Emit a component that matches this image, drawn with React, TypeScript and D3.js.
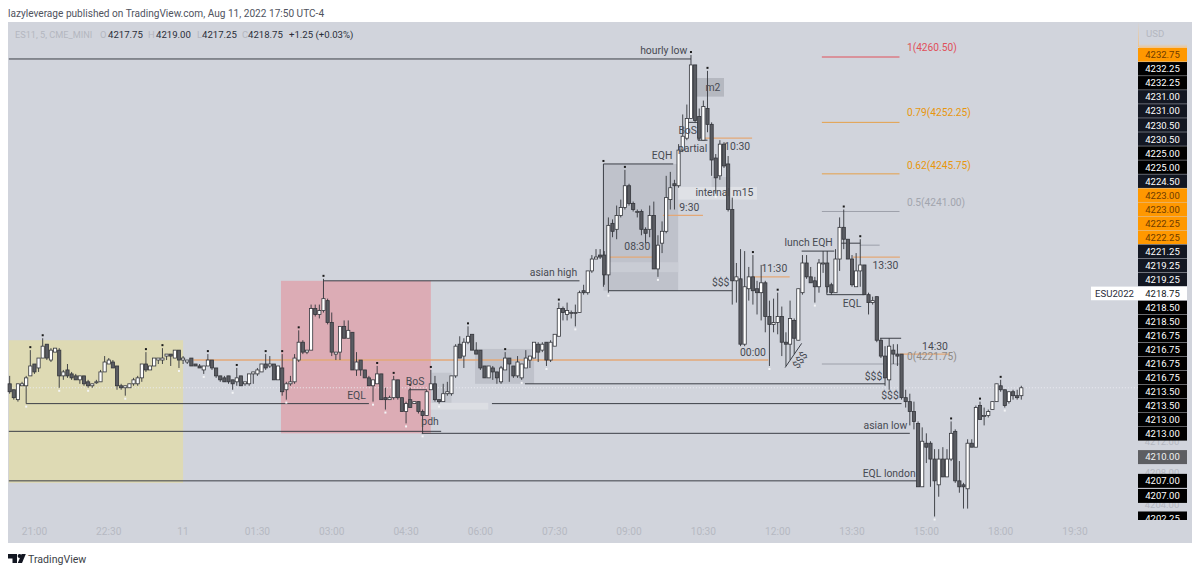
import React from 'react';
import * as d3 from 'd3';

// ES1! 5 minute bars
const opens = [
  4219.25,4218.5,4217.25,4219,4219,4220.25,4221.75,4221.25,4222.5,4224.25,
  4222.25,4223.25,4223.5,4220.25,4221,4220.5,4220.25,4219.75,4220.25,4219.5,
  4219,4219.5,4219.5,4220.75,4221.75,4222,4221.5,4219,4218.75,4218.75,
  4219.25,4219.25,4220,4221.75,4221,4221.5,4222.25,4222.25,4222.75,4223,
  4222.5,4223.5,4222.25,4222,4222.5,4221.75,4221.5,4221,4221.5,4222.25,
  4221.25,4220.25,4220,4220.25,4219.75,4219.5,4220.25,4219.25,4219.25,4220.5,
  4220.5,4220.75,4221.75,4221.5,4221.75,4219.75,4221.25,4218.5,4219.25,4219.5,
  4222.25,4224.5,4223.25,4223.5,4228.75,4228,4228.5,4229.75,4227,4223,
  4223.25,4226.5,4225,4225.75,4221,4222.25,4221,4220,4219,4219.25,
  4220.5,4217.5,4217.25,4217.5,4219.75,4217.5,4215.75,4217.25,4216.75,4217,
  4215.75,4215.25,4218.5,4219.25,4217.25,4217,4218,4218,4220.25,4224.25,
  4222.75,4224.5,4225.5,4223.5,4223.5,4221.5,4220,4221.25,4220.75,4219.5,
  4221,4222.5,4221.5,4220.25,4220,4221.25,4222.25,4222.5,4224.25,4223.5,
  4224.5,4222.25,4224,4225.25,4228.75,4228,4228.25,4228.25,4228.25,4231,
  4230.75,4233.5,4235,4235.5,4235.5,4233,4239.5,4238.75,4240.5,4241.5,
  4244.25,4242,4241,4241,4238.75,4238.75,4240.5,4233.75,4237,4238.5,
  4242.5,4244.5,4244.25,4248.75,4250.25,4252.75,4259.5,4253,4250,4254,
  4252,4247.75,4245.5,4249.5,4247,4241.25,4232.25,4232.5,4224.25,4231.25,
  4232.75,4231.25,4230.75,4232,4227.75,4226.75,4227,4227.75,4224.5,4224.25,
  4227.25,4224.75,4230.75,4234.5,4232.75,4232.25,4231.5,4234.5,4234.5,4231.75,
  4230.75,4235,4239,4237.5,4235,4231.5,4233.5,4234.25,4230.5,4229.5,
  4230.25,4224.75,4222.75,4219.75,4223.5,4223,4223,4217.5,4217,4215.75,
  4214.25,4206.25,4211.75,4211.75,4209.75,4206.5,4209.75,4207.5,4209.75,4213.25,
  4207,4206.5,4206,4211.75,4211.25,4216.5,4215.25,4215.25,4216,4217,
  4219,4218.5,4217,4218.25,4217.75,4217.75,
];
const highs = [
  4220.25,4218.5,4219.25,4219.5,4220.25,4223.5,4221.75,4222.5,4225,4224.25,
  4223.75,4223.75,4223.75,4221,4221.75,4220.75,4220.5,4220.25,4220.25,4219.75,
  4219.25,4219.75,4221,4222.75,4222.5,4222.25,4221.5,4219.25,4219,4219.25,
  4220,4220.25,4221.75,4223.25,4221.5,4222.5,4222.5,4223.75,4223,4223,
  4223.5,4223.5,4222.75,4222.25,4222.5,4221.75,4221.75,4221.5,4223,4222.25,
  4221.25,4220.25,4220.25,4220.25,4219.75,4221.25,4220.25,4219.5,4220.5,4220.75,
  4221.25,4221.75,4223,4222.75,4221.75,4221.5,4223,4219.5,4220.25,4223,
  4226,4224.75,4223.5,4229.25,4229.25,4229.25,4232.5,4230,4228.25,4223.25,
  4226.5,4227.25,4227.25,4225.75,4223.25,4222.25,4221,4220.25,4219.75,4221.5,
  4220.5,4218.75,4217.75,4220.25,4219.75,4217.5,4217,4218.75,4217,4217,
  4216,4218.5,4221,4220.25,4217.25,4219.25,4219.5,4220.25,4224.25,4225.25,
  4225,4226.5,4225.5,4224.5,4223.5,4221.5,4221.5,4221.5,4220.75,4221.5,
  4223.25,4222.5,4221.5,4222.75,4221.75,4223.5,4222.75,4224.5,4224.5,4224.5,
  4224.5,4224.75,4225.5,4229.5,4229,4229.5,4228.5,4229.25,4231,4231.75,
  4233.5,4235.5,4236.25,4236.25,4236,4240.25,4240,4241.75,4242.5,4246.25,
  4244.5,4242.25,4241.25,4241.25,4239,4241.75,4242.25,4238,4239.75,4245.5,
  4246,4245,4249.5,4253.25,4254.5,4260.75,4259.5,4254,4255,4258.75,
  4252.25,4248.25,4250,4249.75,4248,4242.75,4234.5,4236.25,4236,4234,
  4235.5,4232.25,4234.25,4232.25,4229.75,4230,4230.75,4229,4225.75,4229.75,
  4227.5,4231.25,4235.5,4235.5,4234,4232.75,4235,4236,4236,4232,
  4236.25,4240.25,4241.25,4237.5,4235.5,4235.75,4237.5,4234.25,4230.75,4230.25,
  4230.25,4225,4224,4225,4224.25,4224.25,4223,4218.5,4218,4217,
  4214.5,4213.75,4213,4212,4211,4211,4211.25,4211,4214.5,4213.5,
  4209.5,4206.75,4212.25,4212.25,4216.5,4217,4216.25,4216,4217,4219.25,
  4219.75,4218.5,4218.25,4218.5,4218.5,4219,
];
const lows = [
  4218,4217.25,4217,4219,4216.75,4220.25,4220.5,4220.75,4222.5,4222.25,
  4222,4223.25,4218.75,4219.75,4220,4219.75,4219.75,4219.25,4219,4218.75,
  4218.75,4219.25,4219.5,4220.75,4221.75,4221.25,4218.5,4218.5,4217.75,4218.75,
  4219,4219,4219.5,4220.75,4221,4221.5,4221.75,4221.75,4222.25,4221.5,
  4222.5,4221.25,4221.75,4221.75,4221.5,4221.5,4221.25,4220.5,4221.5,4221,
  4220,4219.5,4219.5,4219.25,4218.5,4219,4219,4219,4219,4219.25,
  4220.25,4220.75,4221,4221.25,4219.75,4219.75,4217.75,4217.25,4219,4219.25,
  4222,4223,4223,4223.5,4227.75,4227.5,4228.25,4226.75,4222.75,4222.25,
  4222.25,4225,4225,4221,4220.25,4220.25,4220,4219,4217,4219.25,
  4217.25,4216,4217.25,4217.25,4217.25,4215.75,4214.25,4216.25,4216.75,4215.5,
  4213,4215.25,4218.5,4217,4216.75,4217,4217.75,4217.75,4220,4222.5,
  4221.25,4224.25,4223.5,4223,4221,4220,4220,4219.75,4219.25,4219.25,
  4221,4219.5,4220,4220,4219.75,4221.25,4221.25,4222.5,4222,4223.25,
  4221.5,4222,4224,4225.25,4227.25,4227.25,4227.5,4226.5,4228.25,4230.5,
  4230.5,4233.25,4235,4235,4231.75,4230.75,4237.75,4237.5,4240.25,4241.25,
  4241.75,4241,4240.25,4238,4237,4237.75,4233.75,4232.75,4235.75,4238.25,
  4241.25,4241.25,4244,4248.5,4250,4252.75,4252.25,4250,4250,4251,
  4245.5,4243.25,4245,4246.5,4241,4229.25,4229.5,4224,4224,4229.75,
  4229.25,4228,4227.25,4225.75,4221.5,4225.75,4225.5,4222.75,4221.5,4222.25,
  4223,4224.75,4230.5,4232.5,4232,4229.5,4230.75,4233.25,4230.75,4230.5,
  4230.75,4233.5,4236.25,4235,4231.5,4231.5,4231.5,4230.5,4228,4229.25,
  4224.5,4222.5,4219,4218.5,4221.75,4221.5,4217.25,4216.25,4214,4213.5,
  4206.25,4206.25,4209.25,4206.25,4202.5,4205,4207.5,4207.5,4209.5,4206.75,
  4205.5,4203.5,4203.5,4211.25,4211.25,4214.75,4214,4215,4216,4217,
  4218.25,4216.25,4216.75,4217.25,4217.25,4217.25,
];
const closes = [
  4218.25,4217.5,4219.25,4219.25,4220,4221.5,4220.75,4222.5,4224,4222.5,
  4223.5,4223.75,4220.25,4220.75,4220.25,4220,4219.75,4220.25,4219.25,4219,
  4219.25,4219.5,4220.75,4222,4222.25,4221.25,4219,4218.75,4219,4219.25,
  4219.75,4220,4221.75,4221,4221.5,4222.5,4222.5,4222.5,4223,4222.75,
  4223.5,4222.25,4222.5,4222.25,4221.5,4221.5,4221.25,4221.5,4222.25,4221.25,
  4220.25,4219.75,4219.5,4219.5,4219.25,4220,4219,4219.5,4220.5,4220.75,
  4221,4221.75,4221.25,4221.75,4219.75,4221.5,4218.25,4219.25,4219.5,4222.5,
  4224.5,4223.25,4223.5,4228.75,4228,4228.5,4230,4227,4223.25,4223.25,
  4226.5,4225,4226,4221,4222,4221,4220,4219,4219.75,4220.5,
  4217.25,4217.25,4217.5,4219.75,4217.5,4215.75,4216.75,4216.25,4217,4215.75,
  4215.25,4218.25,4219.25,4217.25,4217,4218,4218.25,4220.25,4224,4222.5,
  4224.5,4225.25,4223.5,4223,4221.25,4220,4221.5,4220.75,4220,4221.25,
  4222.5,4221.75,4220.25,4222,4221.75,4222.5,4222.75,4224.5,4223.25,4224.25,
  4222.25,4224.5,4225.5,4228.75,4228.25,4228.5,4228.25,4228.25,4230.75,4230.75,
  4233.5,4235,4235.25,4235.25,4233,4239.25,4238.5,4240.5,4241.5,4244.25,
  4242,4241.25,4241,4238.75,4238.25,4240.5,4233.75,4236.75,4238.5,4242.75,
  4244,4244.25,4248.75,4250.5,4252.75,4259.5,4252.5,4250.25,4254.25,4252,
  4247.5,4245.25,4249.5,4246.75,4241.25,4232.25,4232.75,4224.25,4231.5,4232.75,
  4231,4230.75,4232,4227.75,4226.75,4227,4227.75,4224.5,4224.25,4227.5,
  4225,4231.25,4234.5,4232.75,4232,4231.5,4234.5,4234.5,4231.5,4230.75,
  4235,4239,4237.5,4235,4231.75,4233.5,4234.25,4230.5,4229.5,4229.75,
  4224.75,4222.75,4220,4224,4223,4222.75,4217.5,4217,4215.75,4214.5,
  4206.25,4212,4211.25,4209.75,4207,4209.75,4207.5,4209.75,4213,4207,
  4206.25,4206.25,4211.75,4211.25,4216.25,4214.75,4215.25,4215.75,4217,4219.25,
  4218.5,4216.5,4218.25,4217.75,4217.5,4218.75,
];

// swing markers, bar numbers
const swingHighBars = [5,8,33,37,48,55,62,66,70,76,89,93,97,102,111,120,133,149,165,169,180,186,202,206,228,235,240];
const swingLowBars = [4,12,19,28,41,47,54,67,88,91,96,100,104,124,130,137,145,157,171,184,195,224,241];

// time axis
const timeLabels = ['21:00','22:30','11','01:30','03:00','04:30','06:00','07:30','09:00','10:30','12:00','13:30','15:00','18:00','19:30'];
const timeBars = [6,24,42,60,78,96,114,132,150,168,186,204,222,240,258];

// price scale, stacked tags
const stackLabels = ['4232.75','4232.25','4232.25','4231.00','4231.00','4230.50','4230.50','4225.00','4225.00','4224.50','4223.00','4223.00','4222.25','4222.25','4221.25','4219.25','4219.25','4218.75','4218.50','4218.50','4216.75','4216.75','4216.75','4216.75','4213.50','4213.50','4213.00','4213.00'];
const stackKinds = ['o','k','k','n','n','n','n','k','k','n','o','o','o','o','n','n','n','w','k','k','k','k','k','k','k','k','k','k'];
const fadedPrices = [4212, 4208, 4204];
const lowerTags = [4207, 4205.1, 4202.25];
const lowerTagLabels = ['4207.00','4207.00','4202.25'];

// drawings, in bars and prices
const darkLevels = [
  { from: -0.2, to: 165, price: 4260.25 },
  { from: 76, to: 138, price: 4232.25 },
  { from: 4, to: 87, price: 4216.75 },
  { from: -0.2, to: 104.5, price: 4213.25 },
  { from: 99.8, to: 218, price: 4213 },
  { from: 116.8, to: 216, price: 4216.75 },
  { from: 124.8, to: 212, price: 4219.25 },
  { from: -0.2, to: 219.7, price: 4207 },
  { from: 143.8, to: 160.7, price: 4247 },
  { from: 145, to: 175, price: 4231 },
  { from: 164, to: 166.7, price: 4252.25 },
  { from: 166.7, to: 169, price: 4250 },
  { from: 96.7, to: 101, price: 4218.5 },
  { from: 191.8, to: 199.7, price: 4236 },
  { from: 197.9, to: 207, price: 4230.5 },
  { from: 201, to: 206, price: 4237 },
  { from: 210.8, to: 215.9, price: 4225 },
];
const darkVerticals = [
  { bar: 143.8, top: 4247, bottom: 4231.5 },
  { bar: 96.7, top: 4218.5, bottom: 4217.25 },
  { bar: 197.9, top: 4231.5, bottom: 4230.5 },
  { bar: 164, top: 4252.25, bottom: 4251 },
  { bar: 166.7, top: 4252.25, bottom: 4250 },
];
const orangeLevels = [
  { from: 44.5, to: 183.7, price: 4222.25 },
  { from: 145, to: 156.5, price: 4235.25 },
  { from: 158.2, to: 167.9, price: 4240.5 },
  { from: 167.9, to: 179.8, price: 4250.25 },
  { from: 180, to: 188.9, price: 4232.75 },
  { from: 204.2, to: 215.6, price: 4235.25 },
  { from: 215.6, to: 227.7, price: 4223 },
];
const fibLevels = [
  { price: 4260.5, label: '1(4260.50)', labelPrice: 4261.65, color: '#e0505a', text: '#e0505a' },
  { price: 4252.25, label: '0.79(4252.25)', labelPrice: 4253.45, color: '#e5a04a', text: '#e8960c' },
  { price: 4245.75, label: '0.62(4245.75)', labelPrice: 4246.85, color: '#e5a04a', text: '#e8960c' },
  { price: 4241, label: '0.5(4241.00)', labelPrice: 4242.2, color: '#9da0aa', text: '#a2a5ae' },
  { price: 4221.75, label: '0(4221.75)', labelPrice: 4222.75, color: '#9da0aa', text: '#8f8a86' },
];
const zones = [
  { from: -0.2, to: 42, top: 4224.75, bottom: 4206.75, fill: '#dedab4' },
  { from: 65.7, to: 102, top: 4232.25, bottom: 4213, fill: '#dcacb5' },
  { from: 143.8, to: 161.9, top: 4247, bottom: 4231, fill: '#bfc2cb' },
  { from: 143.8, to: 161.9, top: 4234.6, bottom: 4233.35, fill: '#c9ccd4' },
  { from: 102.2, to: 107, top: 4220.65, bottom: 4216.75, fill: '#c3c6ce' },
  { from: 112.7, to: 127, top: 4223.65, bottom: 4219.25, fill: '#bfc2cb' },
  { from: 102, to: 115.9, top: 4216.85, bottom: 4216, fill: '#dcdee3' },
  { from: 166.2, to: 173, top: 4257.85, bottom: 4255.5, fill: '#b5b8c0' },
  { from: 170, to: 174.5, top: 4245.35, bottom: 4242.7, fill: '#c3c6ce' },
  { from: 161.9, to: 181, top: 4244.1, bottom: 4242.5, fill: '#dfe1e6' },
];
const notes = [
  { text: 'hourly low', bar: 158.4, price: 4261.4 },
  { text: 'm2', bar: 170.3, price: 4256.7 },
  { text: 'BoS', bar: 164.2, price: 4251.3 },
  { text: 'partial', bar: 165.4, price: 4249 },
  { text: '10:30', bar: 176.2, price: 4249.25 },
  { text: 'EQH', bar: 158, price: 4248.1 },
  { text: 'internal m15', bar: 173.1, price: 4243.45 },
  { text: '9:30', bar: 164.6, price: 4241.55 },
  { text: '08:30', bar: 152, price: 4236.65 },
  { text: 'asian high', bar: 131.7, price: 4233.3 },
  { text: '$$$', bar: 172.2, price: 4232 },
  { text: '00:00', bar: 180, price: 4223.25 },
  { text: '11:30', bar: 185.2, price: 4233.85 },
  { text: 'lunch EQH', bar: 193.5, price: 4237.15 },
  { text: '13:30', bar: 212.1, price: 4234.25 },
  { text: 'EQL', bar: 204, price: 4229.45 },
  { text: '14:30', bar: 224.1, price: 4224 },
  { text: '$$$', bar: 209.2, price: 4220.25 },
  { text: '$$$', bar: 213.2, price: 4217.85 },
  { text: 'asian low', bar: 212.1, price: 4214.05 },
  { text: 'EQL london', bar: 213, price: 4208 },
  { text: 'EQL', bar: 84, price: 4217.85 },
  { text: 'BoS', bar: 98.2, price: 4219.6 },
  { text: 'pdh', bar: 101.8, price: 4214.45 },
];

const W = 1200;
const H = 573;
const FONT = 'Roboto, "Noto Sans", sans-serif';
const INK = '#474a52';

const x = d3.scaleLinear().domain([0, 245]).range([9.67, 1021.3]);
const y = d3.scaleLinear().domain([4221.75, 4260.5]).range([364, 57]);
const stackY = d3.scaleLinear().domain([0, 27]).range([55, 434]);
const fmt = d3.format('.2f');

const tagFill: Record<string, string> = { o: '#ff9800', k: '#000000', n: '#131722', w: '#ffffff' };
const tagText: Record<string, string> = { o: '#6e3b00', k: '#ffffff', n: '#ffffff', w: '#131722' };

export default function App() {
  return (
    <svg width={W} height={H} style={{ position: 'absolute', left: 0, top: 0, background: '#fff' }} fontFamily={FONT}>
      <defs>
        <clipPath id="plot"><rect x={8} y={22} width={1184} height={498} /></clipPath>
        <linearGradient id="axisGlow" x1="0" y1="0" x2="0" y2="1">
          <stop offset="0" stopColor="#d1d4dc" />
          <stop offset="1" stopColor="#f2c48a" />
        </linearGradient>
      </defs>

      <text x={8} y={17} fontSize={10.1} fill="#50535e">lazyleverage published on TradingView.com, Aug 11, 2022 17:50 UTC-4</text>

      <rect x={8} y={22} width={1184} height={521} fill="#d1d4dc" />

      {zones.map((z, i) => (
        <rect key={i} x={x(z.from)} y={y(z.top)} width={x(z.to) - x(z.from)} height={y(z.bottom) - y(z.top)} fill={z.fill} />
      ))}

      <line x1={x(-0.2)} x2={1138} y1={y(closes[closes.length - 1])} y2={y(closes[closes.length - 1])} stroke="#eceef2" strokeDasharray="1 2" />

      {orangeLevels.map((l, i) => (
        <line key={i} x1={x(l.from)} x2={x(l.to)} y1={y(l.price)} y2={y(l.price)} stroke="#e3a877" strokeWidth={i === 0 ? 1.6 : 1.3} />
      ))}
      {fibLevels.map((l, i) => (
        <line key={i} x1={x(196.7)} x2={x(215.5)} y1={y(l.price)} y2={y(l.price)} stroke={l.color} />
      ))}
      <line x1={x(205.9)} x2={x(210.7)} y1={y(4236.75)} y2={y(4236.75)} stroke="#9da0aa" />

      {darkLevels.map((l, i) => (
        <line key={i} x1={x(l.from)} x2={x(l.to)} y1={y(l.price)} y2={y(l.price)} stroke="#3c3f47" />
      ))}
      {darkVerticals.map((l, i) => (
        <line key={i} x1={x(l.bar)} x2={x(l.bar)} y1={y(l.top)} y2={y(l.bottom)} stroke="#3c3f47" />
      ))}
      <line x1={x(187.8)} x2={x(191.8)} y1={y(4221.3)} y2={y(4224.35)} stroke="#3c3f47" />

      {opens.map((o, i) => {
        const c = closes[i];
        const up = c >= o;
        const top = y(Math.max(o, c));
        const bh = Math.max(1, y(Math.min(o, c)) - top);
        return (
          <g key={i}>
            <line x1={x(i)} x2={x(i)} y1={y(highs[i])} y2={y(lows[i])} stroke="#33353b" strokeWidth={0.9} />
            <rect x={x(i) - 1.6} y={top} width={3.2} height={bh} fill={up ? '#ffffff' : '#5a5c62'} stroke="#33353b" strokeWidth={0.8} />
          </g>
        );
      })}

      {swingHighBars.map(b => (
        <rect key={b} x={x(b) - 1} y={y(highs[b]) - 4} width={2} height={2} fill="#1a1a1a" />
      ))}
      {swingLowBars.map(b => (
        <rect key={b} x={x(b) - 1} y={y(lows[b]) + 2} width={2} height={2} fill="#f4f5f7" />
      ))}
      <rect x={x(143.8) - 1} y={y(4247) - 4} width={2} height={2} fill="#1a1a1a" />

      {notes.map((n, i) => (
        <text key={i} x={x(n.bar)} y={y(n.price)} dy="0.35em" textAnchor="middle" fontSize={10.4} fill={INK}>{n.text}</text>
      ))}
      <text x={x(191.4)} y={y(4222.25)} dy="0.35em" textAnchor="middle" fontSize={10.4} fill={INK} transform={`rotate(-55 ${x(191.4)} ${y(4222.25)})`}>$$$</text>

      {fibLevels.map((l, i) => (
        <text key={i} x={x(217.3)} y={y(l.labelPrice)} dy="0.35em" fontSize={10.2} fill={l.text}>{l.label}</text>
      ))}

      <text x={15} y={38} fontSize={9.2} fill="#b4b7c0">ES11, 5, CME_MINI</text>
      {[['O', 100], ['H', 148], ['L', 197], ['C', 242]].map(([t, px]) => (
        <text key={t as string} x={px as number} y={38} fontSize={9.4} fill="#b4b7c0">{t}</text>
      ))}
      {[['4217.75', 108], ['4219.00', 156], ['4217.25', 202], ['4218.75', 248], ['+1.25 (+0.03%)', 289]].map(([t, px]) => (
        <text key={t as string} x={px as number} y={38} fontSize={9.6} fill="#2a2e39">{t}</text>
      ))}

      {timeLabels.map((t, i) => (
        <text key={t} x={x(timeBars[i])} y={535} textAnchor="middle" fontSize={10.2} fill="#b6b9c2">{t}</text>
      ))}

      <rect x={1138} y={22} width={1} height={25} fill="url(#axisGlow)" />
      <rect x={1139} y={44} width={48} height={4} fill="url(#axisGlow)" />
      <text x={1146} y={37} fontSize={9.6} fill="#b4b7c0">USD</text>

      {fadedPrices.map(p => (
        <text key={p} x={1162} y={y(p)} dy="0.35em" textAnchor="middle" fontSize={9.5} fill="#b4b7c0">{fmt(p)}</text>
      ))}
      {stackLabels.map((t, i) => (
        <g key={i}>
          <rect x={1138} y={stackY(i) - 7} width={49} height={13.6} fill={tagFill[stackKinds[i]]} />
          <text x={1162.5} y={stackY(i)} dy="0.35em" textAnchor="middle" fontSize={9.5} fill={tagText[stackKinds[i]]}>{t}</text>
        </g>
      ))}
      <rect x={1091} y={stackY(17) - 7} width={47} height={13.6} fill="#ffffff" />
      <text x={1114.5} y={stackY(17)} dy="0.35em" textAnchor="middle" fontSize={9.6} fill="#2a2e39">ESU2022</text>

      <rect x={1138} y={y(4210) - 7} width={49} height={14} fill="#5d5e62" />
      <text x={1162.5} y={y(4210)} dy="0.35em" textAnchor="middle" fontSize={9.5} fill="#f2f2f2">{fmt(4210)}</text>
      <g clipPath="url(#plot)">
        {lowerTags.map((p, i) => (
          <g key={i}>
            <rect x={1138} y={y(p) - 7} width={49} height={14} fill="#000" />
            <text x={1162.5} y={y(p)} dy="0.35em" textAnchor="middle" fontSize={9.5} fill="#fff">{lowerTagLabels[i]}</text>
          </g>
        ))}
      </g>

      <path d="M8 554h9v9h-4.5v-4.6H8z" fill="#131722" />
      <circle cx={19.6} cy={556} r={2} fill="#131722" />
      <path d="M21.6 554h4.2l-3.8 9h-4.2z" fill="#131722" />
      <text x={28} y={563} fontSize={10.6} fill="#3c3f47">TradingView</text>
    </svg>
  );
}
